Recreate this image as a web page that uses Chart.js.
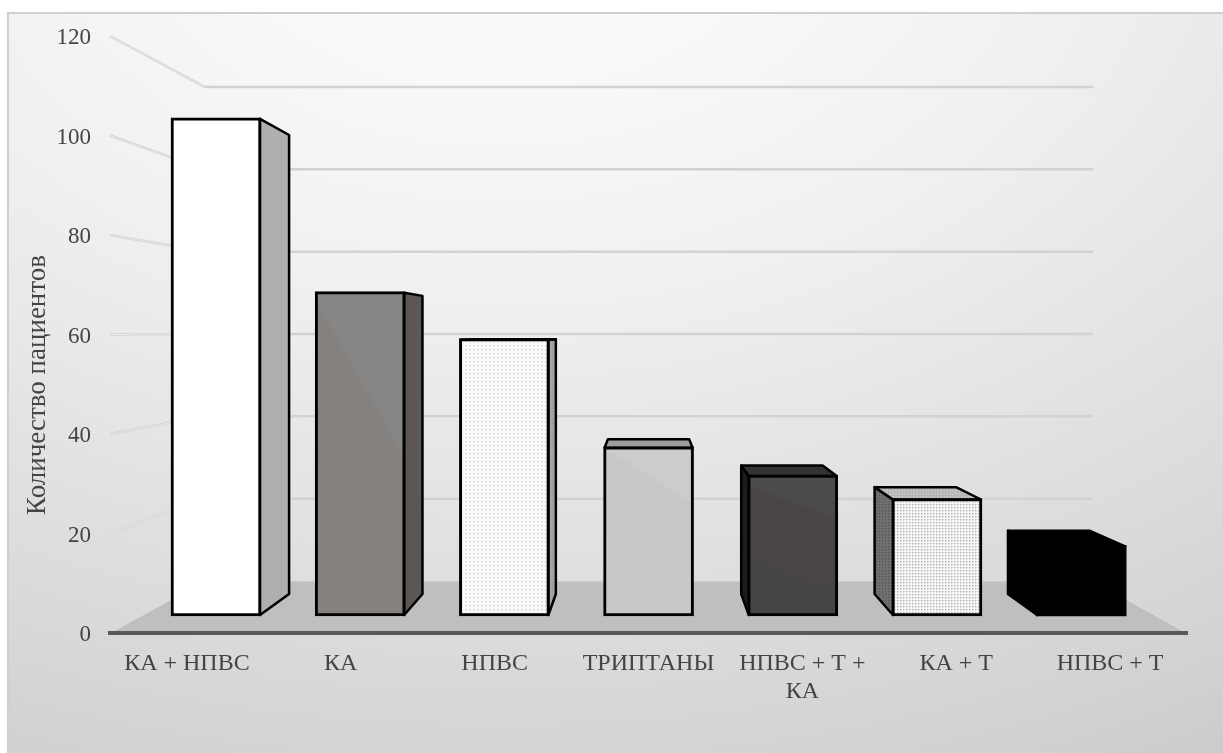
<!DOCTYPE html>
<html lang="ru">
<head>
<meta charset="utf-8">
<title>Количество пациентов</title>
<script src="https://cdn.jsdelivr.net/npm/chart.js@4/dist/chart.umd.min.js"></script>
<style>
  html, body { margin: 0; padding: 0; background: #fff; }
  canvas { display: block; }
</style>
</head>
<body>
<canvas id="patientsChart" width="1223" height="753"></canvas>
<script>
const categories = ["КА + НПВС", "КА", "НПВС", "ТРИПТАНЫ", ["НПВС + Т +", "КА"], "КА + Т", "НПВС + Т"];
const patients = [106, 69, 59, 36, 30, 25, 15];
const axisTicks = [0, 20, 40, 60, 80, 100, 120];
const axisTitle = "Количество пациентов";

const serif = "'Liberation Serif', 'Times New Roman', serif";
const textColor = "#444444";

// camera used for the depth of the boxes
const vanishX = 648, vanishY = 335, depth = 0.925;
const toBack = (x, y) => [vanishX + (x - vanishX) * depth, vanishY + (y - vanishY) * depth];

function dotPattern(size, bg, dots) {
  const c = document.createElement("canvas");
  c.width = c.height = size;
  const g = c.getContext("2d");
  g.fillStyle = bg;
  g.fillRect(0, 0, size, size);
  dots.forEach(d => {
    g.fillStyle = d[2];
    g.fillRect(d[0], d[1], 1, 1);
  });
  return g.createPattern(c, "repeat");
}

const sparseDots = dotPattern(4, "#fbfbfb", [[1, 1, "#c8c8c8"], [2, 1, "#e2e2e2"], [1, 2, "#e8e8e8"], [3, 3, "#f0f0f0"]]);
const denseDots = dotPattern(3, "#f6f6f6", [[0, 0, "#b4b4b4"], [1, 0, "#d4d4d4"], [0, 1, "#d4d4d4"]]);
const sideDots = dotPattern(3, "#a4a4a4", [[0, 0, "#8e8e8e"]]);
const darkDots = dotPattern(3, "#6c6c6c", [[0, 0, "#565656"], [2, 2, "#7a7a7a"]]);
const greyDots = dotPattern(3, "#bcbcbc", [[0, 0, "#a8a8a8"], [2, 1, "#c8c8c8"]]);

const sideFills = ["#afafaf", "#5c5655", sideDots, "#b0b0b0", "#1c1c1c", darkDots, "#000000"];
const topFills = ["#d0d0d0", "#a8a8a8", "#c0c0c0", "#9c9c9c", "#333333", greyDots, "#000000"];
const flatFronts = ["#ffffff", "#85817f", sparseDots, "#c8c8c8", "#454545", denseDots, "#000000"];
const frontBorders = [3, 3, 3, 3, 3, 3, 0];

// diagonal sheen on some fronts: each edge is [left, right] as a fraction of the bar height
const frontBands = [
  null,
  { edges: [[0.02, 0.51]], colors: ["#868686", "#85817f"] },
  null,
  { edges: [[0, 0.33]], colors: ["#cccccc", "#c8c8c8"] },
  { edges: [[0.07, 0.31], [0.586, 0.807]], colors: ["#4b4b4b", "#4a4544", "#454545"] },
  null,
  null
];

function frontFill(ctx) {
  if (ctx.type !== "data") return "#000000";
  const i = ctx.dataIndex;
  const band = frontBands[i];
  if (!band) return flatFronts[i];
  const { chart } = ctx;
  const left = chart.scales.xBars.getPixelForValue(i) - 45;
  const top = chart.scales.yBars.getPixelForValue(patients[i]);
  const h = chart.scales.yBars.getPixelForValue(0) - top;

  // gradient runs square to the band edges, stops come from projecting each edge on it
  const first = band.edges[0];
  const dy = (first[1] - first[0]) * h;
  const len = Math.hypot(90, dy);
  const nx = -dy / len, ny = 90 / len, span = 500;
  const sx = left, sy = top + first[0] * h;
  const grad = chart.ctx.createLinearGradient(sx, sy, sx + nx * span, sy + ny * span);
  band.edges.forEach((e, k) => {
    const pos = ((top + e[0] * h - sy) * ny) / span;
    grad.addColorStop(pos, band.colors[k]);
    grad.addColorStop(pos + 0.002, band.colors[k + 1]);
  });
  return grad;
}

function polygon(g, pts, fill, stroke, width) {
  g.beginPath();
  pts.forEach((p, n) => n ? g.lineTo(p[0], p[1]) : g.moveTo(p[0], p[1]));
  g.closePath();
  if (fill) { g.fillStyle = fill; g.fill(); }
  if (stroke) { g.strokeStyle = stroke; g.lineWidth = width; g.stroke(); }
}

const room = {
  id: "room",
  // panel, floor and wall lines go under the axes
  beforeDraw(chart) {
    const g = chart.ctx, area = chart.chartArea, wall = chart.scales.yWall, front = chart.scales.y;
    const wallLeft = 205, wallRight = 1093;
    g.save();
    g.save();
    g.beginPath();
    g.rect(8, 13, 1215, 740);
    g.clip();
    g.translate(500, -100);
    g.scale(1.5, 1);
    const bg = g.createRadialGradient(0, 0, 0, 0, 0, 1000);
    bg.addColorStop(0, "#fbfbfb");
    bg.addColorStop(0.14, "#fafafa");
    bg.addColorStop(0.4, "#f0f0f0");
    bg.addColorStop(0.68, "#dfdfdf");
    bg.addColorStop(0.89, "#d2d2d2");
    bg.addColorStop(1, "#cacaca");
    g.fillStyle = bg;
    g.fillRect(-400, 0, 1000, 1000);
    g.restore();
    g.fillStyle = "#cfcfcf";
    g.fillRect(8, 12, 1215, 2);
    g.fillRect(7, 12, 2, 741);

    const floorBack = wall.getPixelForValue(0);
    polygon(g, [[area.left, area.bottom], [wallLeft, floorBack], [wallRight, floorBack], [area.right, area.bottom]], "#bfbfbf");
    g.strokeStyle = "#dcdcdc";
    g.lineWidth = 1;
    g.beginPath();
    g.moveTo(area.left, area.bottom); g.lineTo(wallLeft, floorBack); g.lineTo(wallRight, floorBack); g.lineTo(area.right, area.bottom);
    g.stroke();

    axisTicks.filter(v => v > 0).forEach(v => {
      const y0 = front.getPixelForValue(v), y1 = wall.getPixelForValue(v);
      g.beginPath();
      g.moveTo(area.left, y0); g.lineTo(wallLeft, y1); g.lineTo(wallRight, y1);
      g.strokeStyle = "#d2d2d2";
      g.lineWidth = 2.5;
      g.stroke();
      g.beginPath();
      g.moveTo(area.left, y0); g.lineTo(wallLeft, y1);
      g.strokeStyle = "#eeeeee";
      g.lineWidth = 0.8;
      g.stroke();
    });
    g.restore();
  },
  // visible side and top faces of every box, worked out from the bar element
  beforeDatasetsDraw(chart) {
    const g = chart.ctx;
    g.save();
    g.lineJoin = "round";
    chart.getDatasetMeta(0).data.forEach((bar, i) => {
      const p = bar.getProps(["x", "y", "base", "width"], true);
      const l = p.x - p.width / 2 + 1, r = p.x + p.width / 2 - 1, t = p.y + 1, b = p.base - 1;
      const blt = toBack(l, t), brt = toBack(r, t), blb = toBack(l, b), brb = toBack(r, b);
      if (brt[0] > r) polygon(g, [[r, t], brt, brb, [r, b]], sideFills[i], "#000", 2.5);
      if (blt[0] < l) polygon(g, [[l, t], blt, blb, [l, b]], sideFills[i], "#000", 2.5);
      if (blt[1] < t) polygon(g, [[l, t], blt, brt, [r, t]], topFills[i], "#000", 2.5);
    });
    g.restore();
  },
  afterDraw(chart) {
    const g = chart.ctx;
    g.save();
    g.translate(38, 385);
    g.rotate(-Math.PI / 2);
    g.font = "27px " + serif;
    g.fillStyle = textColor;
    g.textAlign = "center";
    g.textBaseline = "middle";
    g.fillText(axisTitle, 0, 0);
    g.restore();
  }
};

new Chart(document.getElementById("patientsChart"), {
  type: "bar",
  plugins: [room],
  data: {
    labels: categories,
    datasets: [{
      data: patients.map((v, i) => ({ x: i, y: v })),
      xAxisID: "xBars",
      yAxisID: "yBars",
      barThickness: 90,
      backgroundColor: frontFill,
      borderColor: "#000000",
      borderWidth: frontBorders,
      borderSkipped: false
    }]
  },
  options: {
    responsive: false,
    animation: false,
    devicePixelRatio: 1,
    layout: { padding: { left: 0, right: 36, top: 36, bottom: 0 } },
    plugins: { legend: { display: false }, title: { display: false }, tooltip: { enabled: false } },
    scales: {
      x: {
        type: "category",
        position: "bottom",
        grid: { display: false },
        border: { display: true, color: "#595959", width: 4 },
        ticks: {
          padding: 8,
          maxRotation: 0,
          minRotation: 0,
          autoSkip: false,
          color: textColor,
          font: { family: serif, size: 24, lineHeight: 1.2 }
        },
        afterFit(scale) { scale.height = 120; }
      },
      y: {
        type: "linear",
        position: "left",
        min: 0,
        max: 120,
        grid: { display: false },
        border: { display: false },
        afterBuildTicks(scale) { scale.ticks = axisTicks.map(value => ({ value })); },
        ticks: {
          padding: 11,
          labelOffset: 2,
          color: textColor,
          font: { family: serif, size: 23 }
        },
        afterFit(scale) { scale.width = 110; }
      },
      // bars stand part way into the floor, so they get their own pixel mapping
      xBars: { type: "linear", display: false, offset: false, min: -0.735, max: 6.734 },
      yBars: { type: "linear", display: false, min: -3.617, max: 123.404 },
      // values on the back wall
      yWall: { type: "linear", display: false, min: -12.63, max: 132.4 }
    }
  }
});
</script>
</body>
</html>
